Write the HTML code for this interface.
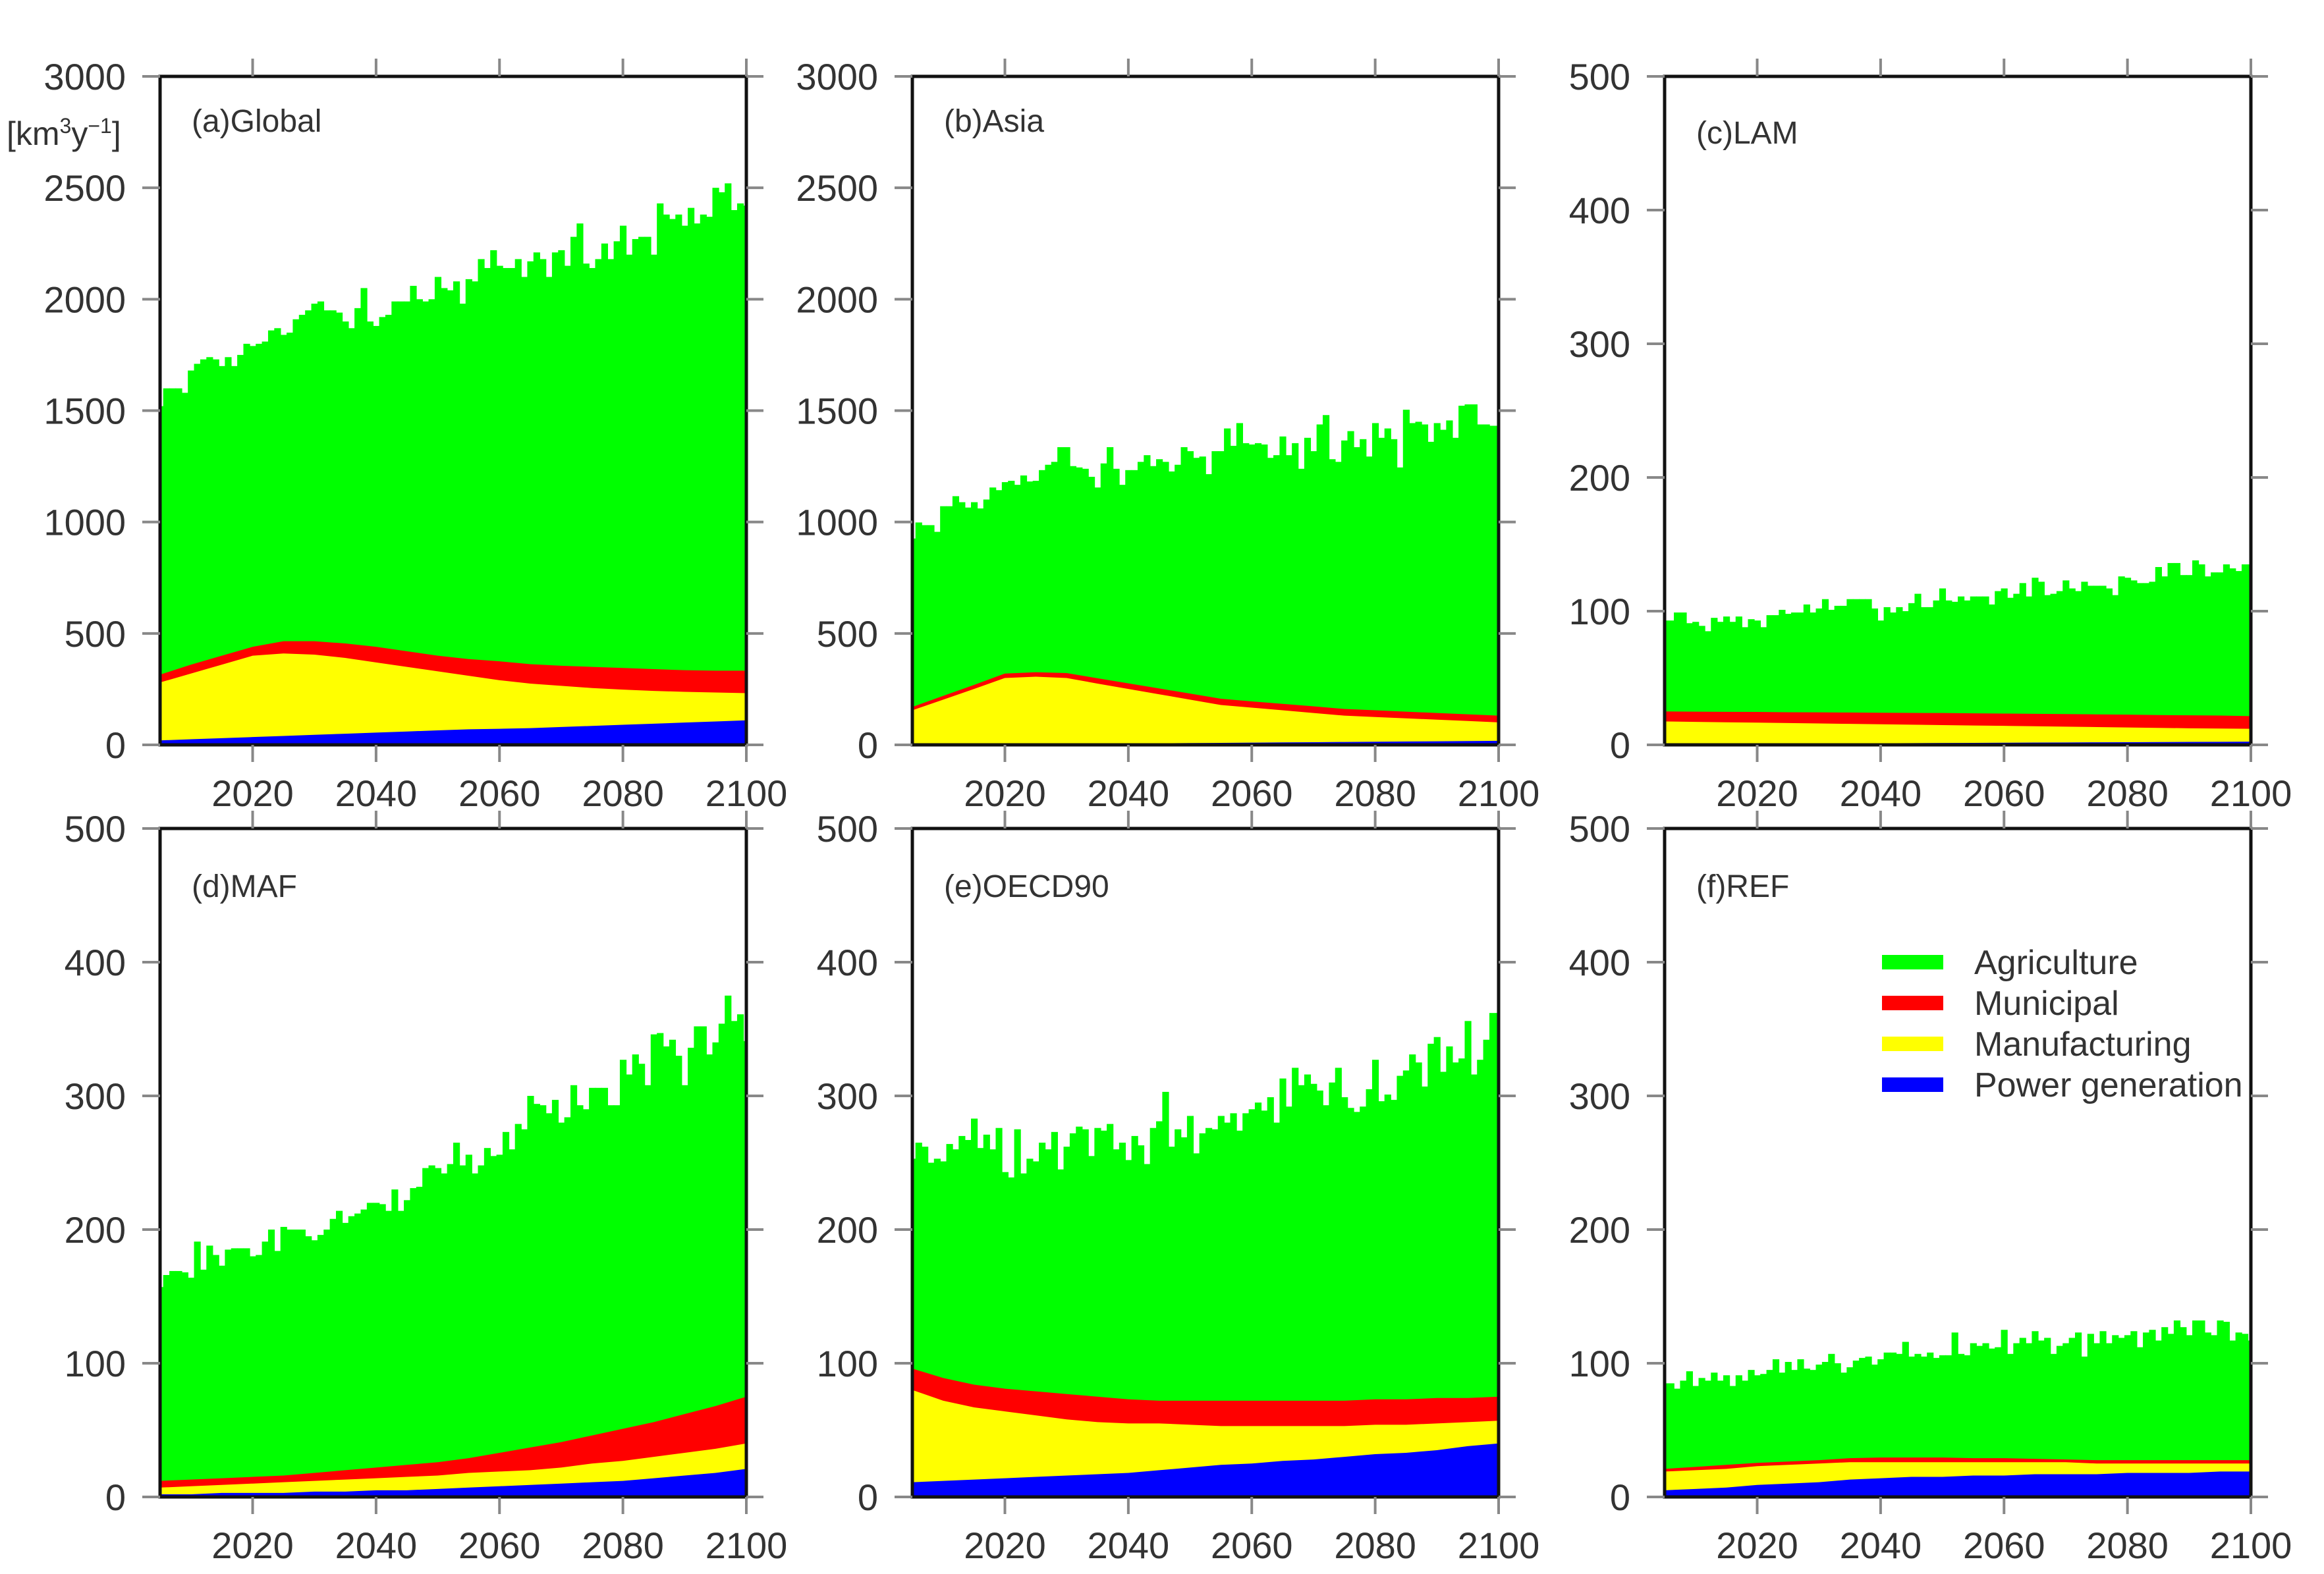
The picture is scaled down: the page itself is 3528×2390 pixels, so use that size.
<!DOCTYPE html>
<html><head><meta charset="utf-8">
<style>
html,body{margin:0;padding:0;background:#fff;}
svg{display:block;font-family:"Liberation Sans",sans-serif;}
</style></head>
<body>
<svg id="chart" width="3528" height="2390" viewBox="0 0 3528 2390" xmlns="http://www.w3.org/2000/svg">
<text x="10" y="220" font-size="50" fill="#333">[km<tspan font-size="32" dy="-18">3</tspan><tspan dy="18">y</tspan><tspan font-size="32" dy="-18">−1</tspan><tspan dy="18">]</tspan></text>
</svg>
<script>
// ---- data ----
const years = [];
for (let y = 2005; y <= 2100; y++) years.push(y);
const sectorYears = [2005,2010,2015,2020,2025,2030,2035,2040,2045,2050,2055,2060,2065,2070,2075,2080,2085,2090,2095,2100];
const xTicks = [2020,2040,2060,2080,2100];
const yTicksBig = [0,500,1000,1500,2000,2500,3000];
const yTicksSmall = [0,100,200,300,400,500];
const panelTitles = ["(a)Global","(b)Asia","(c)LAM","(d)MAF","(e)OECD90","(f)REF"];
const legendLabels = ["Agriculture","Municipal","Manufacturing","Power generation"];

const aTotal = [1520,1600,1600,1600,1580,1680,1710,1730,1740,1730,1700,1740,1700,1750,1800,1790,1800,1810,1860,1870,1840,1850,1910,1930,1950,1980,1990,1950,1950,1940,1900,1870,1960,2050,1900,1880,1920,1930,1990,1990,1990,2060,2000,1990,2000,2100,2050,2040,2080,1980,2090,2080,2180,2140,2220,2150,2140,2140,2180,2100,2170,2210,2180,2100,2210,2220,2150,2280,2340,2160,2140,2180,2250,2180,2260,2330,2200,2270,2280,2280,2200,2430,2380,2360,2380,2330,2410,2340,2380,2370,2500,2480,2520,2400,2430,2420];
const aPower = [20,25,30,35,40,45,50,55,60,65,70,72,75,80,85,90,95,100,105,110];
const aManuf = [260,295,330,365,370,360,340,315,290,265,240,218,200,185,170,158,147,138,130,122];
const aMuni = [35,40,40,40,55,60,65,70,70,70,75,85,87,90,95,97,98,97,98,101];

const bTotal = [926,998,986,986,956,1071,1071,1116,1089,1065,1089,1061,1101,1155,1143,1179,1185,1167,1209,1182,1185,1233,1257,1270,1336,1336,1251,1245,1239,1203,1155,1263,1336,1239,1167,1233,1233,1270,1300,1251,1282,1270,1227,1257,1336,1318,1288,1294,1215,1318,1318,1420,1342,1444,1354,1348,1354,1348,1288,1300,1384,1300,1354,1239,1378,1318,1438,1480,1282,1270,1366,1408,1336,1372,1294,1444,1378,1420,1372,1245,1504,1444,1450,1438,1360,1444,1414,1456,1378,1522,1528,1528,1438,1438,1432,1432];
const bPower = [2,2,3,3,4,5,5,6,7,8,9,10,11,12,13,14,15,16,17,18];
const bManuf = [153,201,248,297,302,295,270,245,220,195,170,157,144,131,118,111,104,97,90,83];
const bMuni = [15,17,18,20,20,22,24,25,26,27,28,28,29,30,30,30,30,30,30,30];

const cTotal = [93,93,99,99,91,92,89,85,95,92,96,92,96,88,94,93,88,97,97,101,98,99,99,105,99,102,109,101,104,104,109,109,109,109,102,93,103,99,103,100,106,113,103,103,108,117,108,107,111,108,111,111,111,105,115,117,110,113,121,111,125,122,112,113,115,123,117,115,122,119,119,119,117,112,126,125,123,121,121,122,133,126,136,136,127,127,138,135,126,129,129,135,132,130,135,135];
const cPower = [0.5,0.6,0.7,0.8,0.9,1,1.1,1.2,1.3,1.4,1.5,1.6,1.7,1.8,1.9,2,2.1,2.2,2.3,2.4];
const cManuf = [17,16.6,16.2,15.8,15.4,15,14.6,14.2,13.8,13.4,13,12.6,12.2,11.8,11.4,11,10.6,10.2,9.9,9.6];
const cMuni = [7.5,7.6,7.8,8,8.1,8.3,8.5,8.6,8.8,9,9.1,9.2,9.3,9.4,9.5,9.6,9.6,9.7,9.7,9.5];

const dTotal = [157,166,169,169,168,164,191,170,188,181,173,185,186,186,186,180,181,191,200,184,202,200,200,200,195,192,196,200,208,214,205,210,212,215,220,220,219,214,230,214,222,231,232,246,248,246,242,249,265,248,256,242,248,261,255,256,273,260,279,275,300,294,293,287,297,280,284,308,293,290,306,306,306,293,293,327,316,331,324,308,346,347,337,342,330,308,336,352,352,331,340,354,375,356,361,341];
const dPower = [2,2,3,3,3,4,4,5,5,6,7,8,9,10,11,12,14,16,18,21];
const dManuf = [5,6,6,7,8,8,9,9,10,10,11,11,11,12,14,15,16,17,18,19];
const dMuni = [5,5,5,5,5,6,7,8,9,10,11,14,17,19,21,24,26,29,32,35];

const eTotal = [253,265,262,250,253,251,264,260,270,267,283,261,271,260,276,243,239,275,242,253,251,265,260,273,245,262,272,277,275,255,276,274,279,260,265,252,270,263,249,276,281,303,262,275,269,285,257,272,276,275,285,280,287,274,287,290,295,289,299,280,313,292,321,308,316,309,304,293,310,321,299,291,288,292,305,327,296,301,297,315,319,331,325,307,339,344,318,337,325,328,356,316,327,342,362,362];
const ePower = [11,12,13,14,15,16,17,18,20,22,24,25,27,28,30,32,33,35,38,40];
const eManuf = [69,60,54,50,46,42,39,37,35,32,29,28,26,25,23,22,21,20,18,17];
const eMuni = [16,17,17,17,18,19,19,18,17,18,19,19,19,19,19,19,19,19,18,18];

const fTotal = [85,85,81,87,94,83,89,87,93,87,91,83,91,87,95,91,92,95,103,93,101,95,103,96,95,99,101,107,100,93,97,102,104,105,99,103,108,108,107,116,105,107,105,108,104,106,106,123,107,106,115,113,115,111,112,125,107,115,119,115,124,117,119,107,113,115,119,123,105,122,115,124,115,121,119,121,124,112,123,125,117,127,122,132,127,121,132,132,123,121,132,131,117,123,122,117];
const fPower = [5,6,7,9,10,11,13,14,15,15,16,16,17,17,17,18,18,18,19,19];
const fManuf = [14,14,14,14,14,14,13,12,11,11,10,10,9,9,8,7,7,7,6,6];
const fMuni = [2,2.5,3,2.5,2.5,2.5,3,3.5,3.5,3.5,3,3,2.5,2,2.5,2.5,2.5,2.5,2.5,2.5];

// ---- layout ----
const NS = "http://www.w3.org/2000/svg";
const svg = document.getElementById("chart");
const colLeft = [243,1385,2527], rowTop = [116,1258], PW = 890, PH = 1015;
const titleDy = [84,84,102,104,104,104];
const panels = [
 {total:aTotal,power:aPower,manuf:aManuf,muni:aMuni,ymax:3000,ticks:yTicksBig,key:"global"},
 {total:bTotal,power:bPower,manuf:bManuf,muni:bMuni,ymax:3000,ticks:yTicksBig,key:"asia"},
 {total:cTotal,power:cPower,manuf:cManuf,muni:cMuni,ymax:500,ticks:yTicksSmall,key:"lam"},
 {total:dTotal,power:dPower,manuf:dManuf,muni:dMuni,ymax:500,ticks:yTicksSmall,key:"maf"},
 {total:eTotal,power:ePower,manuf:eManuf,muni:eMuni,ymax:500,ticks:yTicksSmall,key:"oecd90"},
 {total:fTotal,power:fPower,manuf:fManuf,muni:fMuni,ymax:500,ticks:yTicksSmall,key:"ref"}
];
function mk(tag, attrs, parent){
  const e = document.createElementNS(NS, tag);
  for (const k in attrs) e.setAttribute(k, attrs[k]);
  (parent||svg).appendChild(e);
  return e;
}

panels.forEach((p, i) => {
  const L = colLeft[i%3], T = rowTop[Math.floor(i/3)], B = T + PH, R = L + PW;
  const xs = y => L + (y - 2005) / 95 * PW;
  const ys = v => B - v / p.ymax * PH;
  const g = mk("g", {});
  
  
  const clip = mk("clipPath", {id:"clip"+i}, g);
  mk("rect", {x:L, y:T, width:PW, height:PH}, clip);
  const plot = mk("g", {"clip-path":"url(#clip"+i+")"}, g);
  const bw = PW / 95;
  p.total.forEach((v, k) => {
    const r = mk("rect", {x:xs(years[k]-0.5), y:ys(v), width:bw+0.8, height:B-ys(v), fill:"#00ff00"}, plot);
    
    
  });
  const cum1 = p.power.slice();
  const cum2 = p.power.map((v,k)=>v+p.manuf[k]);
  const cum3 = cum2.map((v,k)=>v+p.muni[k]);
  const layers = [[cum3,"#ff0000","municipal"],[cum2,"#ffff00","manufacturing"],[cum1,"#0000ff","power-generation"]];
  layers.forEach(([arr,col,nm]) => {
    let d = "M" + xs(sectorYears[0]-1) + "," + B;
    d += " L" + xs(sectorYears[0]-1) + "," + ys(arr[0]);
    arr.forEach((v,k)=>{ d += " L" + xs(sectorYears[k]) + "," + ys(v); });
    d += " L" + xs(2101) + "," + ys(arr[arr.length-1]) + " L" + xs(2101) + "," + B + " Z";
    const a = mk("path", {d:d, fill:col}, plot);
    
    
  });
  const fr = mk("rect", {x:L, y:T, width:PW, height:PH, fill:"none", stroke:"#111", "stroke-width":5}, g);
  
  
  p.ticks.forEach(t => {
    const y = ys(t);
    mk("line", {x1:L-27, x2:L, y1:y, y2:y, stroke:"#888", "stroke-width":4}, g);
    mk("line", {x1:R, x2:R+26, y1:y, y2:y, stroke:"#888", "stroke-width":4}, g);
    const tx = mk("text", {x:L-52, y:y+20, "font-size":56, fill:"#333", "text-anchor":"end"}, g);
    tx.textContent = t;
    
    
  });
  xTicks.forEach(t => {
    const x = xs(t);
    mk("line", {x1:x, x2:x, y1:T-27, y2:T, stroke:"#888", "stroke-width":4}, g);
    mk("line", {x1:x, x2:x, y1:B, y2:B+26, stroke:"#888", "stroke-width":4}, g);
    const tx = mk("text", {x:x, y:B+93, "font-size":56, fill:"#333", "text-anchor":"middle"}, g);
    tx.textContent = t;
    
    
  });
  const ti = mk("text", {x:L+48, y:T+titleDy[i], "font-size":48, fill:"#333"}, g);
  ti.textContent = panelTitles[i];
  
  
});

const legColors = ["#00ff00","#ff0000","#ffff00","#0000ff"];
const lg = mk("g", {});


legendLabels.forEach((lab, k) => {
  const cy = 1461 + k * 62;
  const sw = mk("rect", {x:2857, y:cy-11, width:93, height:22, fill:legColors[k]}, lg);
  
  
  const tx = mk("text", {x:2997, y:cy+18, "font-size":52, fill:"#333"}, lg);
  tx.textContent = lab;
  
  
});
</script>
</body></html>
